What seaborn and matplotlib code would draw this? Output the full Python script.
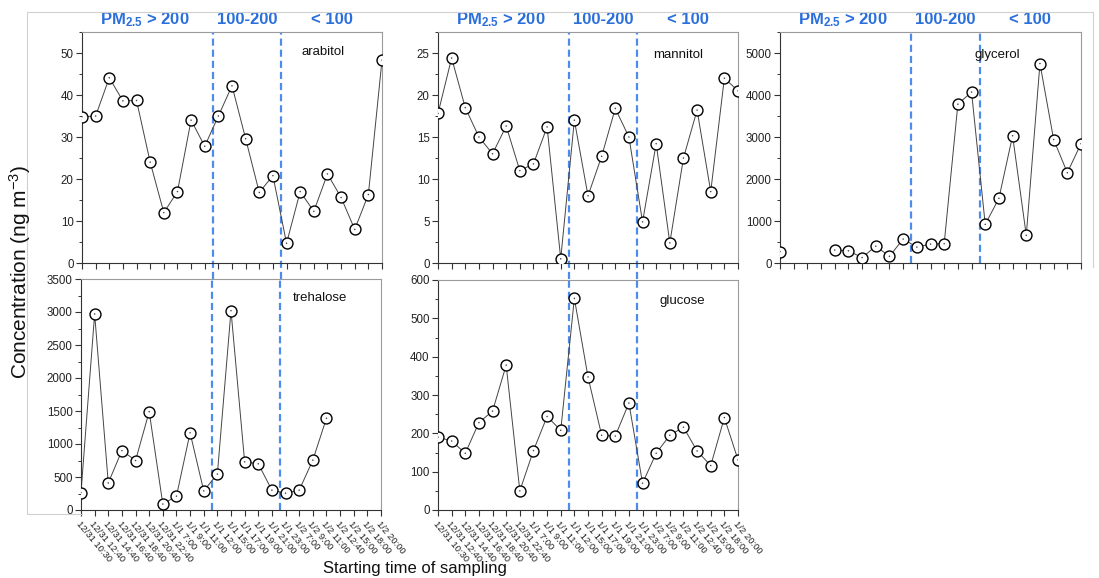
import numpy as np
import pandas as pd
import matplotlib
matplotlib.use("Agg")
import matplotlib.pyplot as plt
import seaborn as sns
from matplotlib.ticker import MultipleLocator
from matplotlib.lines import Line2D

# ---------------- data ----------------
time_labels = ["12/31 10:30", "12/31 12:40", "12/31 14:40", "12/31 16:40", "12/31 18:40",
               "12/31 20:40", "12/31 22:40", "1/1 7:00", "1/1 9:00", "1/1 11:00",
               "1/1 12:00", "1/1 15:00", "1/1 17:00", "1/1 19:00", "1/1 21:00",
               "1/1 23:00", "1/2 7:00", "1/2 9:00", "1/2 11:00", "1/2 12:40",
               "1/2 15:00", "1/2 18:00", "1/2 20:00"]

arabitol = [34.8, 35.0, 44.1, 38.6, 38.7, 24.0, 12.0, 17.0, 34.0, 27.8,
            35.0, 42.2, 29.6, 16.8, 20.8, 4.7, 17.0, 12.3, 21.2, 15.6,
            8.0, 16.3, 48.3]
mannitol = [17.8, 24.4, 18.5, 15.0, 13.0, 16.3, 11.0, 11.8, 16.2, 0.5,
            17.0, 8.0, 12.7, 18.4, 15.0, 4.9, 14.2, 2.4, 12.5, 18.2,
            8.5, 22.0, 20.5]
glycerol = [270, np.nan, np.nan, np.nan, 310, 290, 130, 400, 160, 570,
            380, 450, 460, 3780, 4070, 920, 1540, 3030, 660, 4750,
            2940, 2150, 2840]
trehalose = [265, 2970, 410, 900, 750, 1490, 90, 210, 1170, 290,
             545, 3020, 730, 700, 300, 255, 300, 755, 1390, np.nan,
             np.nan, np.nan, np.nan]
glucose = [190, 180, 148, 228, 258, 378, 50, 155, 244, 208,
           552, 347, 195, 193, 279, 70, 148, 195, 216, 154,
           116, 241, 131]

pm_headers = ["PM$_{\\mathbf{2.5}}$ > 200", "100-200", "< 100"]
boundaries = [9.6, 14.6]

# ---------------- style ----------------
sns.set_style("ticks")
plt.rcParams['font.family'] = ['Liberation Sans', 'DejaVu Sans']
plt.rcParams['mathtext.fontset'] = 'custom'
plt.rcParams['mathtext.rm'] = 'Liberation Sans'
plt.rcParams['mathtext.bf'] = 'Liberation Sans:bold'
plt.rcParams['mathtext.it'] = 'Liberation Sans:italic'

W, H = 1099, 578
fig = plt.figure(figsize=(W / 100, H / 100), dpi=100)
fig.patch.set_facecolor('white')


def rect(l, r, t, b):
    return [l / W, 1 - b / H, (r - l) / W, (b - t) / H]


HEAD_C = '#2a6fdb'
DASH_C = '#4d8cec'

panels = [
    # name, values, rect, ymax, major, label pos (x data, y axes), bottom row, dash ymin
    ("arabitol", arabitol, rect(82, 382, 32, 263), 55, 10, (17.7, 0.913), False, -0.07),
    ("mannitol", mannitol, rect(438, 738, 32, 263), 27.5, 5, (17.6, 0.90), False, -0.07),
    ("glycerol", glycerol, rect(780, 1081, 32, 263), 5500, 1000, (15.9, 0.90), False, 0.0),
    ("trehalose", trehalose, rect(81, 381, 279, 510), 3500, 500, (17.5, 0.918), True, 0.0),
    ("glucose", glucose, rect(438, 738, 280, 510), 600, 100, (17.9, 0.91), True, 0.0),
]

for name, vals, r, ymax, major, lpos, bottom, dmin in panels:
    ax = fig.add_axes(r)
    v = np.asarray(vals, dtype=float)
    idx = np.arange(len(v))
    seg = np.cumsum(np.isnan(v))
    df = pd.DataFrame({"x": idx, "y": v, "seg": seg}).dropna()

    sns.lineplot(data=df, x="x", y="y", units="seg", estimator=None,
                 color="#444444", lw=0.7, ax=ax, legend=False, zorder=2)
    sns.scatterplot(data=df, x="x", y="y", marker="o", s=62, color="white",
                    edgecolor="black", linewidth=1.0, ax=ax, legend=False, zorder=3)
    sns.scatterplot(data=df, x="x", y="y", marker="o", s=1.2, color="#444444",
                    edgecolor="none", ax=ax, legend=False, zorder=4)

    ax.set_xlim(0, 22)
    ax.set_ylim(0, ymax)
    ax.set_xlabel("")
    ax.set_ylabel("")
    ax.set_xticks(idx)
    if bottom:
        ax.set_xticklabels(time_labels, rotation=-50, ha="left", va="top",
                           rotation_mode="anchor", fontsize=6.8)
    else:
        ax.set_xticklabels([])
    ax.yaxis.set_major_locator(MultipleLocator(major))
    ax.yaxis.set_minor_locator(MultipleLocator(major / 2))
    ax.tick_params(axis="both", which="major", direction="out", length=4,
                   width=0.8, color="#333333", labelsize=8.3, pad=2,
                   labelcolor="#222222")
    ax.tick_params(axis="x", which="major", labelsize=6.8, pad=3)
    ax.tick_params(axis="y", which="minor", direction="out", length=2,
                   width=0.7, color="#333333")
    for s in ["left", "bottom"]:
        ax.spines[s].set_color("#333333")
        ax.spines[s].set_linewidth(0.8)
    for s in ["top", "right"]:
        ax.spines[s].set_color("#9a9a9a")
        ax.spines[s].set_linewidth(0.8)
        ax.spines[s].set_visible(True)

    for b in boundaries:
        ax.axvline(b, ymin=dmin, ymax=1, color=DASH_C, lw=1.6,
                   dashes=(3.2, 1.8), clip_on=False, zorder=1)

    ax.text(lpos[0], lpos[1], name, transform=ax.get_xaxis_transform(),
            ha="center", va="center", fontsize=9.5, color="#111111", zorder=5)

    if not bottom:
        tr = ax.get_xaxis_transform()
        for hx, txt in zip([4.6, 12.1, 18.3], pm_headers):
            ax.text(hx, 1.055, txt, transform=tr, ha="center", va="center",
                    fontsize=12, fontweight="bold", color=HEAD_C)

# axis titles
fig.text(20 / W, 1 - 272 / H, "Concentration (ng m$^{-3}$)", rotation=90,
         ha="center", va="center", fontsize=15, color="#111111")
fig.text(415 / W, 1 - 568 / H, "Starting time of sampling", ha="center",
         va="center", fontsize=12, color="#111111")

# faint frame lines from the original composite
frame_c = "#d0d0d0"
fig.add_artist(Line2D([27 / W, 1093 / W], [1 - 12 / H, 1 - 12 / H], color=frame_c, lw=0.8))
fig.add_artist(Line2D([27 / W, 27 / W], [1 - 12 / H, 1 - 514 / H], color=frame_c, lw=0.8))
fig.add_artist(Line2D([27 / W, 82 / W], [1 - 514 / H, 1 - 514 / H], color=frame_c, lw=0.8))
fig.add_artist(Line2D([1093 / W, 1093 / W], [1 - 12 / H, 1 - 267 / H], color=frame_c, lw=0.8))

fig.savefig("out.png", dpi=100, facecolor="white")
